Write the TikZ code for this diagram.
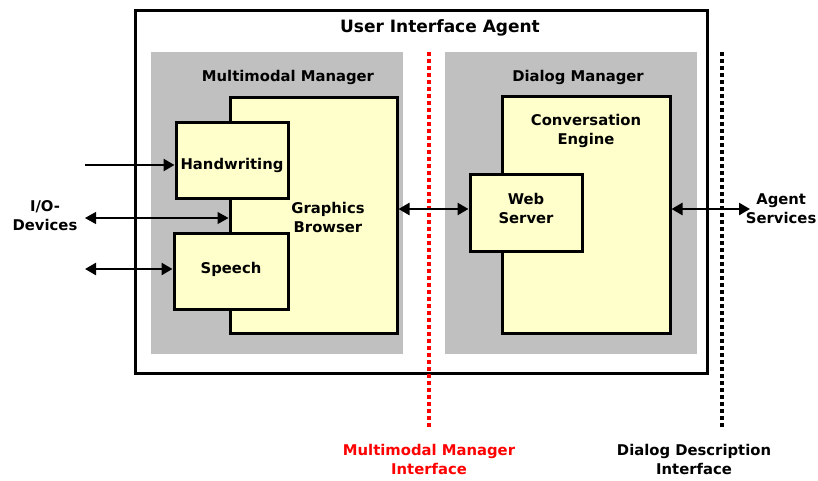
\documentclass[tikz,border=0pt]{standalone}
\usepackage{fontspec}
\setmainfont{DejaVu Sans}
\usetikzlibrary{arrows.meta}
\definecolor{panelgrey}{HTML}{C0C0C0}
\definecolor{boxyellow}{HTML}{FFFFCC}
\tikzset{
  lbl/.style={font=\bfseries\fontsize{14.8}{19}\selectfont, align=center, inner sep=0pt},
  comp/.style={draw=black, line width=3pt, fill=boxyellow, inner sep=0pt},
  iface/.style={line width=4pt, dash pattern=on 4pt off 3pt},
  conn/.style={line width=2.5pt, {Triangle[length=11pt,width=12pt]}-{Triangle[length=11pt,width=12pt]}},
  thinconn/.style={line width=1.2pt, {Triangle[length=11pt,width=12pt]}-{Triangle[length=11pt,width=12pt]}},
  inconn/.style={line width=2.5pt, -{Triangle[length=11pt,width=12pt]}}
}
\begin{document}
\begin{tikzpicture}[x=1pt,y=-1pt]
\useasboundingbox (0,0) rectangle (818,480);

% outer agent frame
\node[draw=black, line width=3pt, minimum width=572pt, minimum height=363pt, inner sep=0pt] (uia) at (421,191.5) {};
\node[lbl, font=\bfseries\fontsize{17}{20}\selectfont] (uiat) at (440,28) {User Interface Agent};

% grey manager panels
\node[fill=panelgrey, minimum width=252pt, minimum height=302pt, inner sep=0pt] (mm) at (277,203) {};
\node[fill=panelgrey, minimum width=252pt, minimum height=302pt, inner sep=0pt] (dm) at (571,203) {};
\node[lbl] (mmt) at (288,77) {Multimodal Manager};
\node[lbl] (dmt) at (578,77) {Dialog Manager};

% interface lines
\coordinate (mmitop) at (429,52);
\coordinate (mmibot) at (429,428);
\coordinate (dditop) at (722,52);
\coordinate (ddibot) at (722,428);
\draw[iface, red] (mmitop) -- (mmibot);
\draw[iface, black] (dditop) -- (ddibot);
\node[lbl, text=red] (mmil) at (429,459) {Multimodal Manager\\Interface};
\node[lbl] (ddil) at (694,459) {Dialog Description\\Interface};

% multimodal manager components
\node[comp, minimum width=167pt, minimum height=236pt] (gb) at (313.5,215) {};
\node[lbl] (gbt) at (328,217) {Graphics\\Browser};
\node[comp, minimum width=112pt, minimum height=76pt] (hw) at (232,160) {};
\node[lbl] (hwt) at (232,165) {Handwriting};
\node[comp, minimum width=114pt, minimum height=76pt] (sp) at (231,271) {};
\node[lbl] (spt) at (231,269) {Speech};

% dialog manager components
\node[comp, minimum width=168pt, minimum height=237pt] (ce) at (586,214.5) {};
\node[lbl] (cet) at (586,131) {Conversation\\Engine};
\node[comp, minimum width=112pt, minimum height=77pt] (ws) at (526,212.5) {};
\node[lbl] (wst) at (526,208) {Web\\Server};

% external ends
\node[lbl] (io) at (45,216) {I/O-\\Devices};
\node[lbl, anchor=east] (as) at (816.5,209) {Agent\\Services};
\coordinate (hwin) at (85,165);
\coordinate (gbin) at (85,218);
\coordinate (spin) at (85,269);
\coordinate (asout) at (750,209);

% connectors
\draw[inconn] (hwin) -- (hw.west |- hwin);
\draw[thinconn] (gbin) -- (gb.west |- gbin);
\draw[conn] (spin) -- (sp.west |- spin);
\draw[conn] (gb.east |- 0,209) -- (ws.west |- 0,209);
\draw[conn] (ce.east |- asout) -- (asout);
\end{tikzpicture}
\end{document}
